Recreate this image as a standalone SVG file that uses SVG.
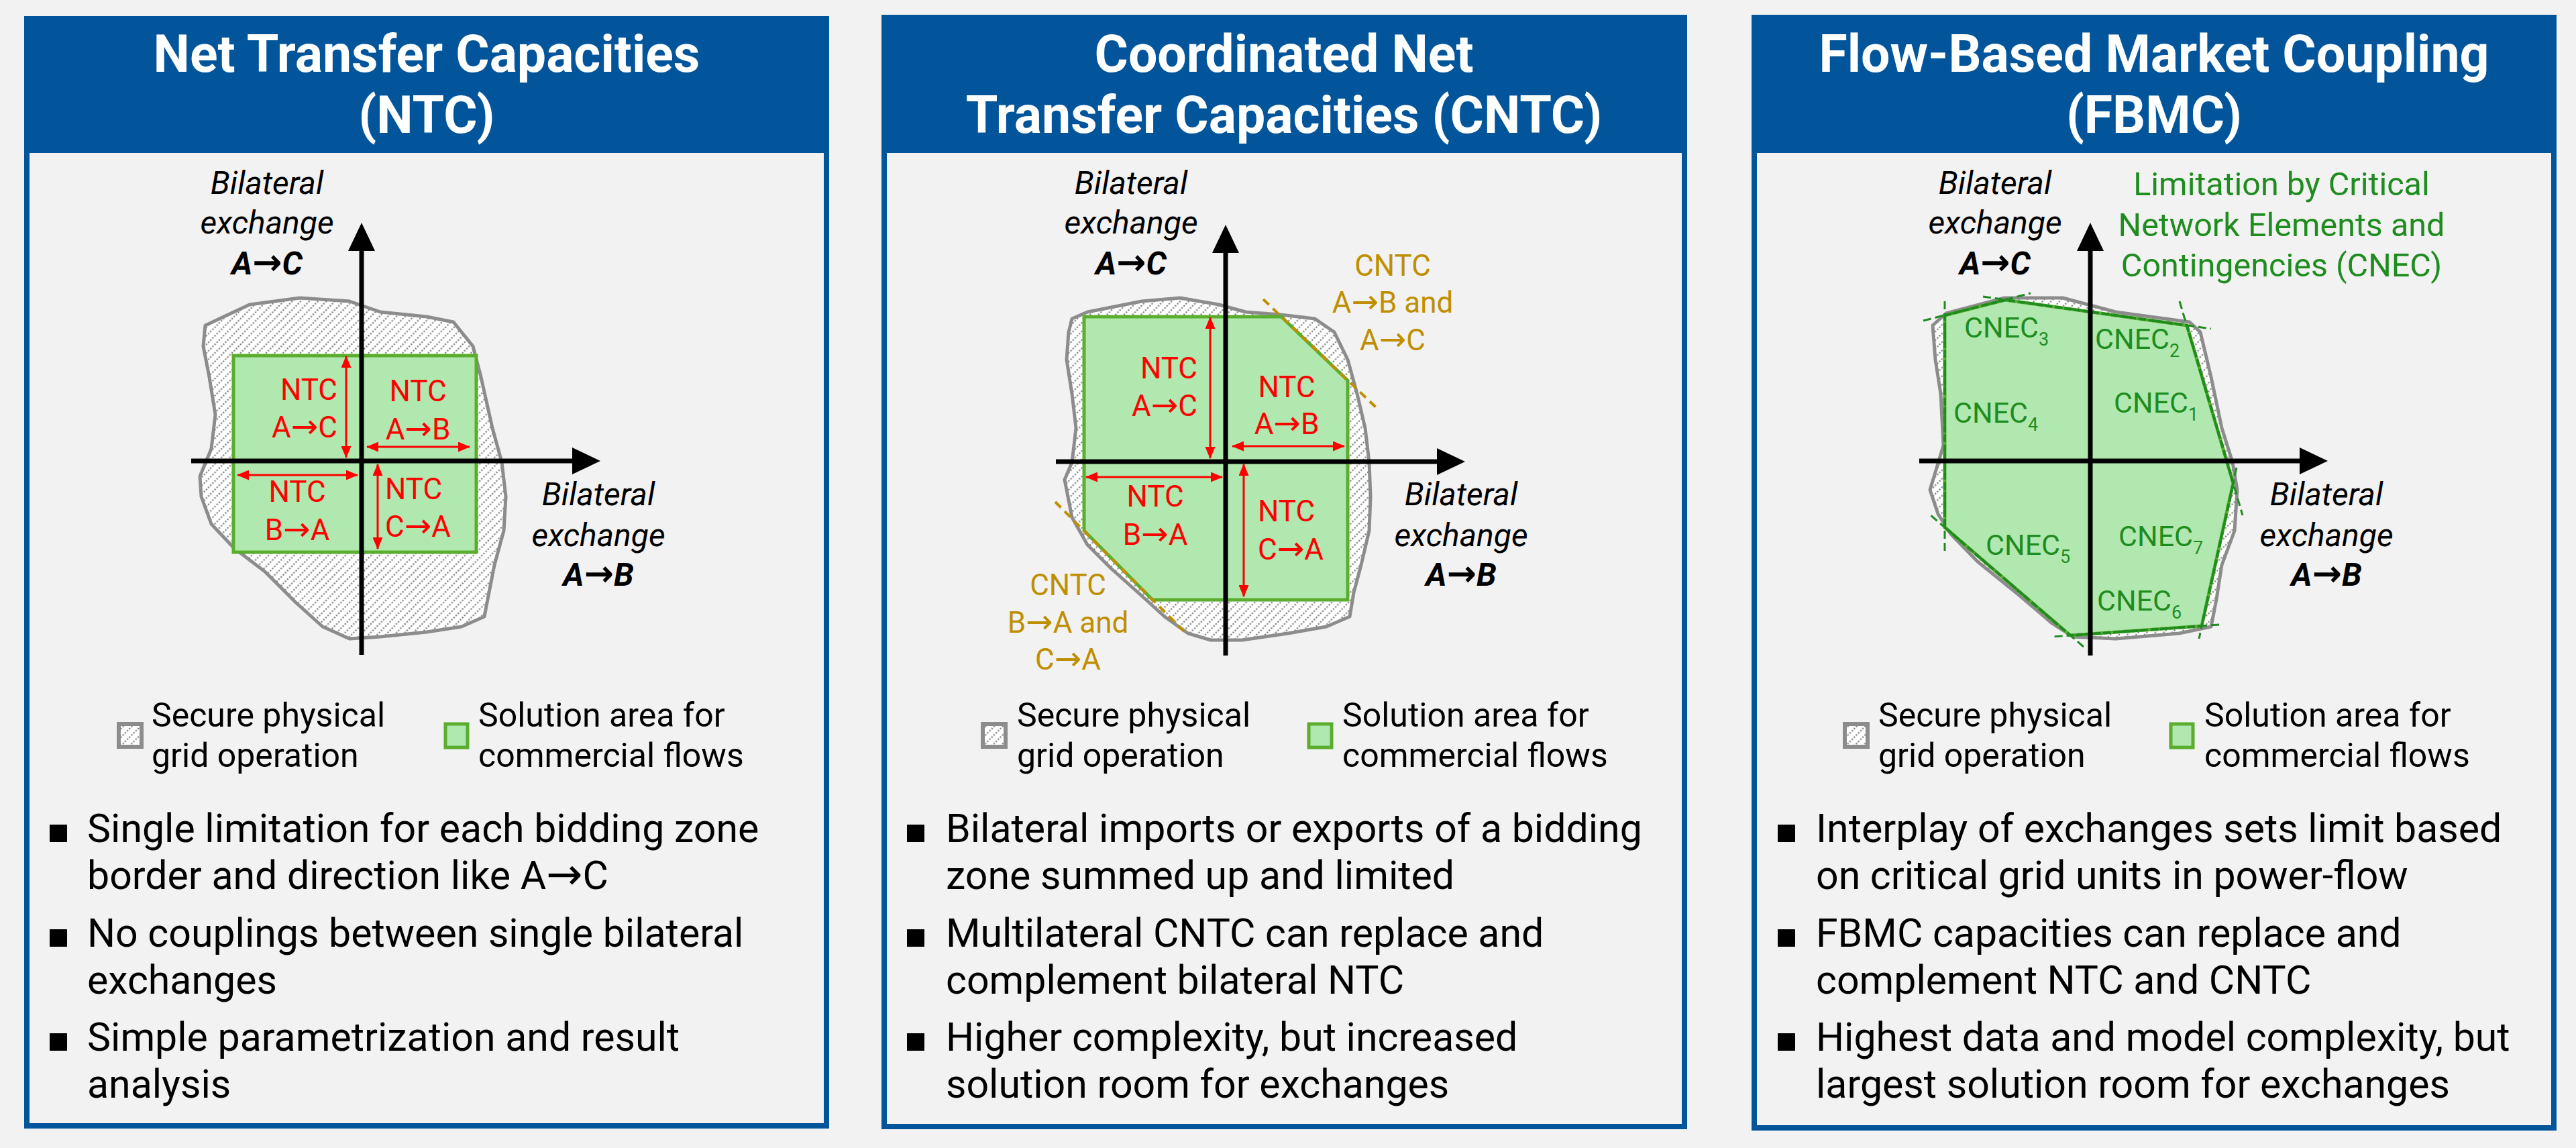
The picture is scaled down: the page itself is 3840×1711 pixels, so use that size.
<svg xmlns="http://www.w3.org/2000/svg" width="3840" height="1711" viewBox="0 0 3840 1711">
<defs>
<pattern id="hatch" patternUnits="userSpaceOnUse" width="9" height="9" patternTransform="rotate(45)">
<rect width="9" height="9" fill="#ffffff"/>
<line x1="4.5" y1="0" x2="4.5" y2="9" stroke="#6e6e6e" stroke-width="2" stroke-dasharray="2.2 2.3"/>
</pattern>
<marker id="ra" viewBox="0 0 18 15" refX="17" refY="7.5" markerWidth="18" markerHeight="15" markerUnits="userSpaceOnUse" orient="auto-start-reverse">
<path d="M0,0 L18,7.5 L0,15 z" fill="#ff0000"/>
</marker>
<style>
.bg{fill:#f2f2f2}
.panel{fill:#f2f2f2;stroke:#03559b;stroke-width:8}
.head{fill:#03559b}
.ht{font-family:Roboto,'Liberation Sans',sans-serif;font-weight:bold;font-size:77px;fill:#ffffff;text-anchor:middle}
.blob{fill:url(#hatch);stroke:#8c8c8c;stroke-width:5;stroke-linejoin:round}
.sol{fill:#b0e8b0;stroke:#5bae2d;stroke-width:5;stroke-linejoin:miter}
.axis{stroke:#000;stroke-width:7;fill:none}
.ah{fill:#000}
.rarr{stroke:#ff0000;stroke-width:3;fill:none;marker-start:url(#ra);marker-end:url(#ra)}
.ax{font-family:Roboto,'Liberation Sans',sans-serif;font-style:italic;font-size:48px;fill:#000;text-anchor:middle}
.axb{font-weight:bold}
.rt{font-family:Roboto,'Liberation Sans',sans-serif;font-size:44px;fill:#ff0000}
.ot{font-family:Roboto,'Liberation Sans',sans-serif;font-size:44px;fill:#bf8f00;text-anchor:middle}
.odash{stroke:#bf8f00;stroke-width:4;stroke-dasharray:12 8;fill:none}
.gt{font-family:Roboto,'Liberation Sans',sans-serif;font-size:48.5px;fill:#1e8c1e;text-anchor:middle}
.ct{font-family:Roboto,'Liberation Sans',sans-serif;font-size:43px;fill:#1e8c1e}
.gdash{stroke:#1e8c1e;stroke-width:4;stroke-dasharray:10 4;fill:none}
.gext{stroke:#1e8c1e;stroke-width:3;stroke-dasharray:12 6;fill:none}
.lg{font-family:Roboto,'Liberation Sans',sans-serif;font-size:50px;fill:#000}
.sw1{fill:url(#hatch);stroke:#8c8c8c;stroke-width:6}
.sw2{fill:#b0e8b0;stroke:#5bae2d;stroke-width:5}
.bt{font-family:Roboto,'Liberation Sans',sans-serif;font-size:59px;fill:#000}
.bul{fill:#000}
.arr{font-family:'DejaVu Sans',sans-serif;font-size:1.1em;font-style:normal}
</style>
</defs>
<rect class="bg" x="0" y="0" width="3840" height="1711"/>

<!-- Panel 1: NTC -->
<g id="panel-ntc">
<rect class="panel" x="40" y="28" width="1192" height="1650"/>
<rect class="head" x="36" y="24" width="1200" height="204"/>
<text class="ht" x="636" y="107">Net Transfer Capacities</text>
<text class="ht" x="636" y="198">(NTC)</text>
<polygon class="blob" points="306,485 372,454 447,444 521,449 567,465 636,472 676,480 705,516 717,562 734,638 748,689 754,740 751,791 737,842 728,888 722,919 688,934 636,942 567,949 521,952 481,934 441,898 395,852 349,817 315,781 300,740 298,710 315,669 321,618 312,562 303,516"/>
<rect class="sol" x="348" y="530" width="362" height="293"/>
<g id="ntc-arrows">
<line class="rarr" x1="516" y1="531" x2="516" y2="682"/>
<line class="rarr" x1="547" y1="666" x2="700" y2="666"/>
<line class="rarr" x1="354" y1="708" x2="533" y2="708"/>
<line class="rarr" x1="563" y1="692" x2="563" y2="818"/>
</g>
<line class="axis" x1="539" y1="365" x2="539" y2="976"/>
<polygon class="ah" points="539,332 519,374 559,374"/>
<line class="axis" x1="285" y1="687" x2="860" y2="687"/>
<polygon class="ah" points="895,687 853,667 853,707"/>
<text class="rt" x="503" y="596" text-anchor="end">NTC</text>
<text class="rt" x="503" y="652" text-anchor="end">A<tspan class="arr">→</tspan>C</text>
<text class="rt" x="623" y="598" text-anchor="middle">NTC</text>
<text class="rt" x="623" y="655" text-anchor="middle">A<tspan class="arr">→</tspan>B</text>
<text class="rt" x="443" y="748" text-anchor="middle">NTC</text>
<text class="rt" x="443" y="805" text-anchor="middle">B<tspan class="arr">→</tspan>A</text>
<text class="rt" x="574" y="744">NTC</text>
<text class="rt" x="574" y="800">C<tspan class="arr">→</tspan>A</text>
<text class="ax" x="398" y="289">Bilateral</text>
<text class="ax" x="398" y="348">exchange</text>
<text class="ax axb" x="398" y="409">A<tspan class="arr">→</tspan>C</text>
<text class="ax" x="892" y="753">Bilateral</text>
<text class="ax" x="892" y="814">exchange</text>
<text class="ax axb" x="892" y="873">A<tspan class="arr">→</tspan>B</text>
<rect class="sw1" x="177" y="1079" width="34" height="34"/>
<text class="lg" x="226" y="1083">Secure physical</text>
<text class="lg" x="226" y="1143">grid operation</text>
<rect class="sw2" x="664" y="1079" width="33" height="35"/>
<text class="lg" x="713" y="1083">Solution area for</text>
<text class="lg" x="713" y="1143">commercial flows</text>
<rect class="bul" x="74" y="1229" width="26" height="26"/>
<text class="bt" x="130" y="1255">Single limitation for each bidding zone</text>
<text class="bt" x="130" y="1325">border and direction like A<tspan class="arr" font-size="52">→</tspan>C</text>
<rect class="bul" x="74" y="1385" width="26" height="26"/>
<text class="bt" x="130" y="1411">No couplings between single bilateral</text>
<text class="bt" x="130" y="1481">exchanges</text>
<rect class="bul" x="74" y="1540" width="26" height="26"/>
<text class="bt" x="130" y="1566">Simple parametrization and result</text>
<text class="bt" x="130" y="1636">analysis</text>
</g>

<!-- Panel 2: CNTC -->
<g id="panel-cntc">
<rect class="panel" x="1318" y="26" width="1193" height="1653"/>
<rect class="head" x="1314" y="22" width="1201" height="206"/>
<text class="ht" x="1914" y="107">Coordinated Net</text>
<text class="ht" x="1914" y="198">Transfer Capacities (CNTC)</text>
<polygon class="blob" points="1598,475 1621,465 1702,449 1759,444 1817,454 1857,465 1909,469 1960,475 1989,495 2009,536 2023,587 2035,638 2041,689 2043,740 2041,791 2029,842 2018,883 2012,919 1977,934 1920,944 1851,954 1805,954 1771,944 1736,919 1702,888 1656,847 1621,812 1598,771 1587,715 1598,689 1604,638 1598,587 1590,536 1593,495"/>
<polygon class="sol" points="1616,472 1910,472 2009,567 2009,894 1718,894 1616,791"/>
<line class="odash" x1="1883" y1="446" x2="2052" y2="608"/>
<line class="odash" x1="1573" y1="748" x2="1765" y2="941"/>
<g id="cntc-arrows">
<line class="rarr" x1="1804" y1="473" x2="1804" y2="683"/>
<line class="rarr" x1="1837" y1="665" x2="2004" y2="665"/>
<line class="rarr" x1="1619" y1="711" x2="1822" y2="711"/>
<line class="rarr" x1="1854" y1="692" x2="1854" y2="889"/>
</g>
<line class="axis" x1="1827" y1="368" x2="1827" y2="977"/>
<polygon class="ah" points="1827,335 1807,377 1847,377"/>
<line class="axis" x1="1574" y1="688" x2="2149" y2="688"/>
<polygon class="ah" points="2184,688 2142,668 2142,708"/>
<text class="rt" x="1785" y="564" text-anchor="end">NTC</text>
<text class="rt" x="1785" y="620" text-anchor="end">A<tspan class="arr">→</tspan>C</text>
<text class="rt" x="1918" y="592" text-anchor="middle">NTC</text>
<text class="rt" x="1918" y="647" text-anchor="middle">A<tspan class="arr">→</tspan>B</text>
<text class="rt" x="1722" y="755" text-anchor="middle">NTC</text>
<text class="rt" x="1722" y="812" text-anchor="middle">B<tspan class="arr">→</tspan>A</text>
<text class="rt" x="1875" y="777">NTC</text>
<text class="rt" x="1875" y="834">C<tspan class="arr">→</tspan>A</text>
<text class="ot" x="2076" y="411">CNTC</text>
<text class="ot" x="2076" y="466">A<tspan class="arr">→</tspan>B and</text>
<text class="ot" x="2076" y="522">A<tspan class="arr">→</tspan>C</text>
<text class="ot" x="1592" y="887">CNTC</text>
<text class="ot" x="1592" y="943">B<tspan class="arr">→</tspan>A and</text>
<text class="ot" x="1592" y="998">C<tspan class="arr">→</tspan>A</text>
<text class="ax" x="1686" y="289">Bilateral</text>
<text class="ax" x="1686" y="348">exchange</text>
<text class="ax axb" x="1686" y="409">A<tspan class="arr">→</tspan>C</text>
<text class="ax" x="2178" y="753">Bilateral</text>
<text class="ax" x="2178" y="814">exchange</text>
<text class="ax axb" x="2178" y="873">A<tspan class="arr">→</tspan>B</text>
<rect class="sw1" x="1465" y="1079" width="34" height="34"/>
<text class="lg" x="1516" y="1083">Secure physical</text>
<text class="lg" x="1516" y="1143">grid operation</text>
<rect class="sw2" x="1951" y="1079" width="34" height="35"/>
<text class="lg" x="2001" y="1083">Solution area for</text>
<text class="lg" x="2001" y="1143">commercial flows</text>
<rect class="bul" x="1352" y="1229" width="26" height="26"/>
<text class="bt" x="1410" y="1255">Bilateral imports or exports of a bidding</text>
<text class="bt" x="1410" y="1325">zone summed up and limited</text>
<rect class="bul" x="1352" y="1385" width="26" height="26"/>
<text class="bt" x="1410" y="1411">Multilateral CNTC can replace and</text>
<text class="bt" x="1410" y="1481">complement bilateral NTC</text>
<rect class="bul" x="1352" y="1540" width="26" height="26"/>
<text class="bt" x="1410" y="1566">Higher complexity, but increased</text>
<text class="bt" x="1410" y="1636">solution room for exchanges</text>
</g>

<!-- Panel 3: FBMC -->
<g id="panel-fbmc">
<rect class="panel" x="2615" y="26" width="1192" height="1655"/>
<rect class="head" x="2611" y="22" width="1200" height="206"/>
<text class="ht" x="3211" y="107">Flow-Based Market Coupling</text>
<text class="ht" x="3211" y="198">(FBMC)</text>
<polygon class="blob" points="2881,485 2901,467 2988,444 3075,444 3154,465 3264,480 3280,495 3296,562 3312,638 3328,689 3335,730 3331,791 3312,842 3304,893 3296,934 3248,944 3154,952 3090,949 3059,929 3011,888 2948,837 2908,796 2889,766 2877,730 2885,704 2897,664 2893,587 2885,536"/>
<polygon class="sol" points="2899,470 2989,447 3260,485 3329,720 3282,933 3086,947 2899,786"/>
<polygon class="gdash" points="2899,470 2989,447 3260,485 3329,720 3282,933 3086,947 2899,786"/>
<g id="cnec-lines">
<line class="gext" x1="2899" y1="449" x2="2899" y2="824"/>
<line class="gext" x1="2867" y1="478" x2="3027" y2="437"/>
<line class="gext" x1="2956" y1="442" x2="3296" y2="490"/>
<line class="gext" x1="3249" y1="449" x2="3343" y2="768"/>
<line class="gext" x1="3334" y1="697" x2="3278" y2="952"/>
<line class="gext" x1="3308" y1="931" x2="3059" y2="949"/>
<line class="gext" x1="3106" y1="964" x2="2878" y2="768"/>
</g>
<line class="axis" x1="3116" y1="365" x2="3116" y2="977"/>
<polygon class="ah" points="3116,332 3096,374 3136,374"/>
<line class="axis" x1="2861" y1="687" x2="3435" y2="687"/>
<polygon class="ah" points="3470,687 3428,667 3428,707"/>
<text class="ct" x="2928" y="503">CNEC<tspan font-size="27" dy="12">3</tspan></text>
<text class="ct" x="3123" y="520">CNEC<tspan font-size="27" dy="12">2</tspan></text>
<text class="ct" x="3151" y="615">CNEC<tspan font-size="27" dy="12">1</tspan></text>
<text class="ct" x="2912" y="630">CNEC<tspan font-size="27" dy="12">4</tspan></text>
<text class="ct" x="2960" y="827">CNEC<tspan font-size="27" dy="12">5</tspan></text>
<text class="ct" x="3158" y="814">CNEC<tspan font-size="27" dy="12">7</tspan></text>
<text class="ct" x="3126" y="910">CNEC<tspan font-size="27" dy="12">6</tspan></text>
<text class="gt" x="3401" y="291">Limitation by Critical</text>
<text class="gt" x="3401" y="352">Network Elements and</text>
<text class="gt" x="3401" y="412">Contingencies (CNEC)</text>
<text class="ax" x="2974" y="289">Bilateral</text>
<text class="ax" x="2974" y="348">exchange</text>
<text class="ax axb" x="2974" y="409">A<tspan class="arr">→</tspan>C</text>
<text class="ax" x="3468" y="753">Bilateral</text>
<text class="ax" x="3468" y="814">exchange</text>
<text class="ax axb" x="3468" y="873">A<tspan class="arr">→</tspan>B</text>
<rect class="sw1" x="2750" y="1079" width="34" height="34"/>
<text class="lg" x="2800" y="1083">Secure physical</text>
<text class="lg" x="2800" y="1143">grid operation</text>
<rect class="sw2" x="3236" y="1079" width="33" height="35"/>
<text class="lg" x="3286" y="1083">Solution area for</text>
<text class="lg" x="3286" y="1143">commercial flows</text>
<rect class="bul" x="2650" y="1229" width="26" height="26"/>
<text class="bt" x="2707" y="1255">Interplay of exchanges sets limit based</text>
<text class="bt" x="2707" y="1325">on critical grid units in power-flow</text>
<rect class="bul" x="2650" y="1385" width="26" height="26"/>
<text class="bt" x="2707" y="1411">FBMC capacities can replace and</text>
<text class="bt" x="2707" y="1481">complement NTC and CNTC</text>
<rect class="bul" x="2650" y="1540" width="26" height="26"/>
<text class="bt" x="2707" y="1566">Highest data and model complexity, but</text>
<text class="bt" x="2707" y="1636">largest solution room for exchanges</text>
</g>
</svg>
